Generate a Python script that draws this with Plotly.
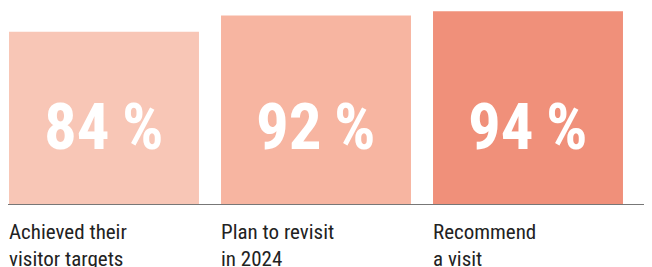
import plotly.graph_objects as go

categories = ["Achieved their<br>visitor targets", "Plan to revisit<br>in 2024", "Recommend<br>a visit"]
values = [84, 92, 94]
value_labels = ["84\u2009%", "92\u2009%", "94\u2009%"]
colors = ["#F8C6B6", "#F7B5A1", "#F0907A"]

FONT = "Roboto Condensed, Liberation Sans Narrow, DejaVu Sans Condensed, Roboto, sans-serif"
idx = list(range(len(values)))

fig = go.Figure(go.Bar(
    x=idx, y=values, width=0.896, marker=dict(color=colors, line=dict(width=0)),
    hoverinfo="skip",
))

for i, (lab, vl) in enumerate(zip(categories, value_labels)):
    fig.add_annotation(x=i, y=37.8, xref="x", yref="y", text=vl, showarrow=False,
                       xanchor="center", yanchor="middle",
                       font=dict(family=FONT, size=65, color="white", weight="bold"))
    fig.add_annotation(x=i - 0.448, y=0, xref="x", yref="paper", text=lab, showarrow=False,
                       xanchor="left", yanchor="top", align="left", yshift=-14, xshift=-2,
                       font=dict(family=FONT, size=21, color="#222222"))

fig.update_layout(
    width=644, height=259, margin=dict(l=0, r=0, t=0, b=63),
    paper_bgcolor="white", plot_bgcolor="white", showlegend=False,
    xaxis=dict(range=[-0.4528, 2.5849], showticklabels=False, showgrid=False, zeroline=False,
               showline=True, linecolor="#777777", linewidth=1, ticks=""),
    yaxis=dict(range=[0, 95.6], visible=False, showgrid=False, zeroline=False),
)
fig.write_html("out.html")
